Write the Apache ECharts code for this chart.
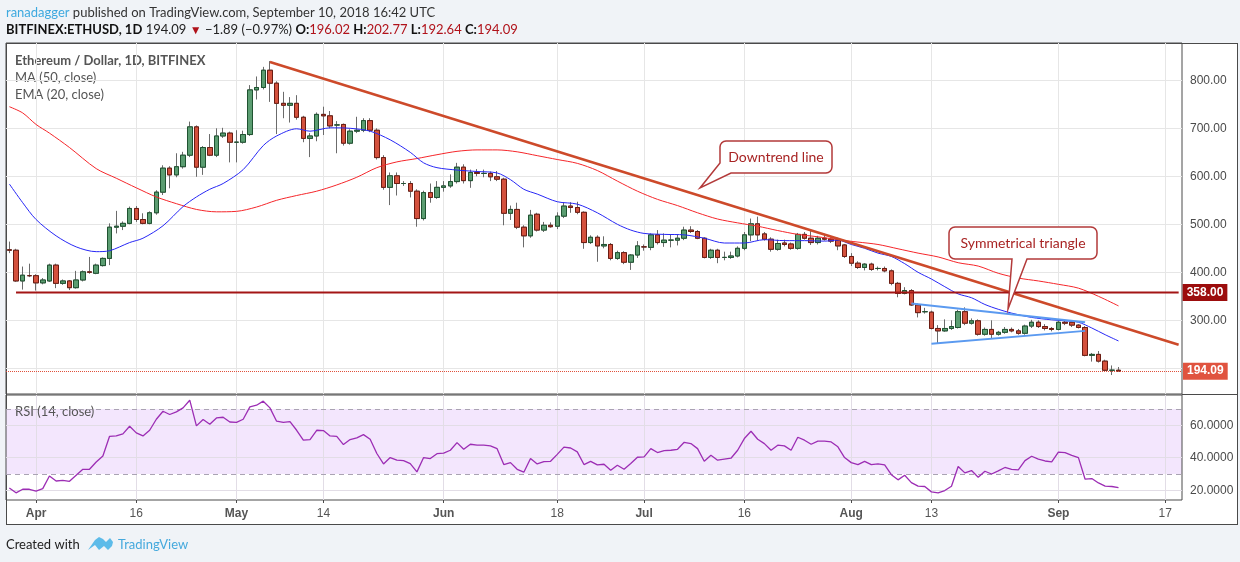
<!DOCTYPE html>
<html>
<head>
<meta charset="utf-8">
<title>ETHUSD 1D</title>
<script src="https://cdn.jsdelivr.net/npm/echarts@6/dist/echarts.min.js"></script>
<style>
html, body { margin: 0; padding: 0; background: #f0f3f7; }
#box { position: absolute; left: 6px; top: 43px; width: 1230px; height: 480px; background: #fff; border: 1px solid #4a4a4a; }
#charts { position: absolute; left: 0; top: 0; width: 1240px; height: 562px; }
</style>
</head>
<body>
<div id="box"></div>
<div id="charts"></div>
<script>
// daily categories, 2018-03-28 .. 2018-09-19 (last 9 days are empty space)
var dates = [];
var start = Date.UTC(2018, 2, 28);
for (var i = 0; i < 176; i++) {
    dates.push(new Date(start + i * 86400000).toISOString().slice(0, 10));
}

var tickDates = ['2018-04-01', '2018-04-16', '2018-05-01', '2018-05-14', '2018-06-01', '2018-06-18',
    '2018-07-01', '2018-07-16', '2018-08-01', '2018-08-13', '2018-09-01', '2018-09-17'];
var tickLabels = ['Apr', '16', 'May', '14', 'Jun', '18', 'Jul', '16', 'Aug', '13', 'Sep', '17'];
var priceTicks = [200, 300, 400, 500, 600, 700, 800];
var rsiTicks = [20, 40, 60];

// [open, close, low, high]
var ohlc = [
    [447,446,440,464],[446,382,380,449],[382,394,364,412],[393,393,390,418],[393,378,362,396],
    [378,384,375,388],[382,415,380,418],[415,377,367,418],[377,382,374,385],[382,368,363,384],
    [368,384,366,403],[384,401,381,404],[401,400,397,432],[398,415,396,418],[414,429,412,431],
    [429,494,415,502],[494,496,481,528],[496,502,488,506],[502,533,500,537],[533,510,505,538],
    [510,502,500,523],[502,524,500,527],[524,567,520,571],[567,617,561,623],[617,603,575,621],
    [603,620,598,648],[620,644,616,651],[644,703,640,714],[703,619,599,706],[619,660,603,663],
    [660,644,642,688],[644,684,640,700],[684,690,680,701],[690,671,629,693],[671,671,629,696],
    [671,687,668,695],[687,780,684,790],[780,785,760,808],[785,821,781,828],[821,794,755,840],
    [794,752,688,798],[752,748,721,776],[748,752,712,765],[752,723,718,769],[723,679,671,726],
    [679,684,640,690],[684,729,673,733],[729,726,686,745],[726,705,700,736],[707,707,648,715],
    [708,669,664,710],[669,694,666,698],[694,696,690,724],[696,716,692,721],[716,696,692,721],
    [696,639,635,700],[639,577,572,644],[577,601,540,608],[601,585,560,608],[585,585,580,590],
    [585,569,556,590],[569,512,495,573],[512,566,508,570],[566,556,545,585],[556,577,553,590],
    [577,580,568,590],[580,589,576,604],[589,619,585,628],[619,591,585,625],[591,608,576,614],
    [608,606,600,615],[606,606,598,614],[606,599,590,610],[599,594,590,611],[594,523,498,597],
    [523,531,509,539],[531,494,490,545],[494,476,452,498],[476,519,472,530],[521,488,485,524],
    [488,498,484,505],[498,495,493,504],[496,517,490,525],[517,538,513,546],[538,535,524,546],
    [535,525,521,547],[525,462,449,527],[462,473,459,477],[473,455,422,477],[455,458,450,475],
    [458,429,425,461],[429,441,426,445],[441,421,417,444],[421,436,405,438],[436,455,430,465],
    [453,453,445,458],[452,478,446,481],[478,462,458,488],[462,467,453,481],[467,467,452,479],
    [467,471,456,479],[471,488,467,495],[488,485,482,496],[485,471,469,488],[471,431,429,473],
    [431,446,428,449],[446,431,419,449],[431,431,425,443],[431,434,428,443],[434,450,431,454],
    [450,478,446,484],[478,501,465,512],[501,478,466,516],[480,469,466,484],[469,448,443,473],
    [448,460,445,468],[461,458,454,468],[459,450,447,462],[450,479,447,482],[479,471,468,484],
    [471,462,457,486],[462,471,458,476],[471,469,466,480],[469,465,461,473],[467,455,446,472],
    [457,433,430,459],[433,419,413,440],[419,410,407,423],[410,417,404,419],[417,406,403,420],
    [408,408,404,412],[408,403,400,412],[403,377,373,406],[377,356,348,380],[356,362,354,369],
    [362,332,330,365],[332,316,306,335],[318,318,314,326],[317,283,281,320],[283,278,252,290],
    [278,283,276,302],[283,287,280,300],[285,318,283,322],[318,294,290,327],[294,299,291,304],
    [299,271,268,302],[271,281,268,285],[281,271,262,300],[271,275,268,278],[275,281,272,286],
    [281,278,275,285],[278,273,270,282],[273,288,270,291],[288,296,284,301],[296,287,284,300],
    [287,283,279,292],[283,281,277,286],[281,296,279,301],[296,294,290,300],[296,290,286,298],
    [290,285,283,292],[285,227,225,288],[227,229,214,232],[229,215,212,236],[215,196,193,218],
    [196,196,186,206],[196.02,194.09,192.64,202.77]
];

// EMA(20): [day index, value]
var ema20 = [
    [0,584],[2,545],[4,510],[7,476],[10,453],[13,443],[15,445],[18,462],[20,471],[23,497],
    [26,537],[28,557],[30,573],[32,585],[35,614],[38,664],[40,684],[43,699],[45,694],[48,701],
    [51,700],[54,694],[57,676],[60,650],[62,628],[64,618],[67,613],[70,610],[73,607],[75,593],
    [77,573],[79,563],[82,547],[85,542],[88,524],[91,500],[93,488],[95,481],[98,479],[101,478],
    [104,471],[107,461],[110,461],[113,468],[116,466],[119,466],[122,465],[124,467],[126,458],
    [128,450],[130,440],[132,433],[134,418],[136,400],[138,386],[140,370],[142,355],[144,347],
    [146,333],[148,323],[150,315],[153,306],[156,301],[158,299],[160,296],[162,284],[164,270],[166,257]
];
// MA(50)
var ma50 = [
    [0,745],[2,732],[4,708],[6,690],[9,660],[13,616],[16,596],[19,576],[22,557],[25,543],
    [28,531],[31,526],[34,527],[37,536],[40,550],[43,560],[46,569],[49,582],[52,598],[55,618],
    [58,630],[61,637],[64,645],[67,652],[70,655],[73,655],[76,651],[79,643],[82,635],[85,627],
    [88,612],[91,590],[94,569],[97,552],[100,539],[103,524],[106,511],[109,503],[112,496],[115,487],
    [118,479],[121,474],[124,468],[127,463],[130,458],[133,449],[136,440],[139,432],[142,420],
    [145,413],[148,398],[151,388],[154,382],[157,375],[160,367],[163,350],[166,330]
];

// RSI(14)
var rsi = [
    21.4,18.4,20.6,20.6,19.4,21.0,28.8,25.7,26.1,25.5,
    29.2,32.9,32.9,37.4,41.1,53.2,53.4,54.7,59.4,55.3,
    53.4,56.9,63.7,68.6,66.6,68.2,70.7,75.4,59.6,63.5,
    60.6,64.5,64.9,62.0,61.8,63.7,71.3,72.3,74.8,70.7,
    62.5,61.8,62.2,56.9,50.8,51.2,56.9,56.7,53.4,53.2,
    48.1,51.2,52.2,54.2,51.4,42.6,36.2,40.1,38.5,38.2,
    36.4,31.3,40.1,39.5,42.5,42.8,44.6,49.3,45.2,48.3,
    47.7,47.7,47.3,45.6,35.8,37.0,32.9,31.1,39.5,36.2,
    37.6,37.8,42.1,46.5,46.0,43.6,35.8,37.8,35.6,36.0,
    32.3,35.4,32.9,36.4,40.3,40.5,45.6,43.2,44.4,44.6,
    45.2,49.5,48.7,45.6,37.8,41.5,38.5,39.1,39.7,44.6,
    51.8,56.3,51.4,48.7,44.6,47.7,47.3,44.6,52.6,50.8,
    48.3,50.2,50.2,49.7,46.7,40.1,37.0,35.8,37.8,35.8,
    36.2,35.6,29.6,26.4,29.2,24.7,22.5,22.3,19.0,18.4,
    19.8,22.5,34.6,30.7,32.1,28.0,31.7,30.0,31.9,34.0,
    32.9,32.5,38.2,40.9,39.1,38.0,37.4,43.4,43.2,41.5,
    40.1,26.8,27.2,24.5,22.5,22.3,21.6
];

// drawn lines: [day index, price]
var downtrend = [[39, 838], [175, 249]];
var triUpper = [[135, 335], [161, 296]];
var triLower = [[138, 251], [161, 278]];
var support = [[1, 358], [175, 358]];
var lastClose = 194.09;

function toPts(arr) {
    return arr.map(function (p) { return [dates[p[0]], p[1]]; });
}

// bodies only (no wick), drawn over gray wicks
var bodies = ohlc.map(function (d) {
    return [d[0], d[1], Math.min(d[0], d[1]), Math.max(d[0], d[1])];
});

// rounded corner points for the callout outlines
function arc(cx, cy, r, a0, a1) {
    var pts = [];
    for (var k = 0; k <= 4; k++) {
        var a = (a0 + (a1 - a0) * k / 4) * Math.PI / 180;
        pts.push([cx + r * Math.cos(a), cy + r * Math.sin(a)]);
    }
    return pts;
}
var calloutTrend = [].concat(
    arc(726, 147, 6, 180, 270), arc(826, 147, 6, 270, 360), arc(826, 167, 6, 0, 90),
    [[731, 173], [700, 188], [720, 163]]
);
var calloutTri = [].concat(
    arc(955, 233, 6, 180, 270), arc(1091, 233, 6, 270, 360), arc(1091, 253, 6, 0, 90),
    [[1027, 259], [1008, 309], [1012, 259]], arc(955, 253, 6, 90, 180)
);

var isTick = function (idx, val) { return tickDates.indexOf(val) >= 0; };
var vGrid = tickDates.map(function (d) { return {xAxis: d}; });
var axisFont = 'Liberation Sans';

var myChart = echarts.init(document.getElementById('charts'));
myChart.setOption({
    animation: false,
    grid: [
        {left: 6, top: 43, width: 1176, height: 351, show: true, borderColor: '#4a4a4a', borderWidth: 1},
        {left: 6, top: 395, width: 1176, height: 105, show: true, borderColor: '#4a4a4a', borderWidth: 1}
    ],
    xAxis: [
        {type: 'category', gridIndex: 0, data: dates, axisLine: {show: false}, axisTick: {show: false},
            axisLabel: {show: false}, splitLine: {show: false}},
        {type: 'category', gridIndex: 1, data: dates, axisLine: {show: false},
            axisTick: {show: true, interval: isTick, alignWithLabel: true, length: 3, lineStyle: {color: '#4a4a4a'}},
            axisLabel: {
                interval: isTick, margin: 8, color: '#555', fontSize: 12, fontFamily: axisFont,
                formatter: function (val) {
                    var t = tickLabels[tickDates.indexOf(val)];
                    return isNaN(t) ? '{m|' + t + '}' : t;
                },
                rich: {m: {fontWeight: 'bold', color: '#555', fontSize: 12, fontFamily: axisFont}}
            },
            splitLine: {show: false}}
    ],
    yAxis: [
        {type: 'value', gridIndex: 0, position: 'right', min: 146.5, max: 877.7,
            axisLine: {show: false}, axisTick: {show: false, customValues: priceTicks},
            axisLabel: {customValues: priceTicks, margin: 8, color: '#4a4a4a', fontSize: 12, fontFamily: axisFont,
                formatter: function (v) { return v.toFixed(2); }},
            splitLine: {show: true, lineStyle: {color: '#e6e6e6'}}},
        {type: 'value', gridIndex: 1, position: 'right', min: 14, max: 78.6,
            axisLine: {show: false}, axisTick: {show: false, customValues: rsiTicks},
            axisLabel: {customValues: rsiTicks, margin: 8, color: '#4a4a4a', fontSize: 12, fontFamily: axisFont,
                formatter: function (v) { return v.toFixed(4); }},
            splitLine: {show: true, lineStyle: {color: '#e2dde6'}}}
    ],
    series: [
        {
            name: 'wicks', type: 'candlestick', xAxisIndex: 0, yAxisIndex: 0, data: ohlc, barWidth: 5, z: 2,
            itemStyle: {color: '#6b6b6b', color0: '#6b6b6b', borderColor: '#6b6b6b', borderColor0: '#6b6b6b', borderWidth: 1},
            markLine: {
                silent: true, symbol: 'none', z: 0, label: {show: false},
                lineStyle: {color: '#e6e6e6', width: 1, type: 'solid'},
                data: vGrid
            }
        },
        {
            name: 'ETHUSD', type: 'candlestick', xAxisIndex: 0, yAxisIndex: 0, data: bodies, barWidth: 5, z: 3,
            itemStyle: {color: '#5b9d71', color0: '#d4513d', borderColor: '#1f5331', borderColor0: '#6b1c12', borderWidth: 1},
            markLine: {
                silent: true, symbol: 'none', z: 6,
                lineStyle: {color: '#e0503c', width: 1, type: 'dotted'},
                label: {show: true, position: 'end', distance: 1, formatter: lastClose.toFixed(2),
                    backgroundColor: '#e0533f', color: '#fff', fontWeight: 'bold', fontSize: 12,
                    fontFamily: axisFont, padding: [3, 4, 2, 4]},
                data: [{yAxis: lastClose}]
            }
        },
        {name: 'MA (50, close)', type: 'line', data: toPts(ma50), showSymbol: false, smooth: 0.3, z: 4,
            lineStyle: {color: '#f5262a', width: 1}},
        {name: 'EMA (20, close)', type: 'line', data: toPts(ema20), showSymbol: false, smooth: 0.3, z: 4,
            lineStyle: {color: '#2727f5', width: 1}},
        {name: 'Downtrend line', type: 'line', data: toPts(downtrend), showSymbol: false, z: 5,
            lineStyle: {color: '#cd4a2a', width: 2.5}},
        {name: 'triangle top', type: 'line', data: toPts(triUpper), showSymbol: false, z: 5,
            lineStyle: {color: '#5b9af0', width: 2}},
        {name: 'triangle bottom', type: 'line', data: toPts(triLower), showSymbol: false, z: 5,
            lineStyle: {color: '#5b9af0', width: 2}},
        {name: '358', type: 'line', data: toPts(support), showSymbol: false, z: 5,
            lineStyle: {color: '#a31515', width: 2},
            endLabel: {show: true, distance: 4, formatter: '358.00', backgroundColor: '#9c0d0d', color: '#fff',
                fontWeight: 'bold', fontSize: 12, fontFamily: axisFont, padding: [3, 4, 2, 4]}},
        {
            name: 'RSI (14, close)', type: 'line', xAxisIndex: 1, yAxisIndex: 1, data: rsi, showSymbol: false, z: 4,
            lineStyle: {color: '#9c2db4', width: 1.3},
            markArea: {silent: true, z: -1, itemStyle: {color: '#f3e6fd'}, data: [[{yAxis: 30}, {yAxis: 70}]]},
            markLine: {
                silent: true, symbol: 'none', z: 0, label: {show: false},
                data: vGrid.map(function (g) { return {xAxis: g.xAxis, lineStyle: {color: '#e2dde6', width: 1, type: 'solid'}}; })
                    .concat([{yAxis: 30}, {yAxis: 70}]),
                lineStyle: {color: '#aaa3b3', width: 1, type: [5, 4]}
            }
        }
    ],
    graphic: [
        {type: 'text', x: 6, y: 13, style: {
            text: '{u|ranadagger} published on TradingView.com, September 10, 2018 16:42 UTC',
            font: '13px Lato', fill: '#333', verticalAlign: 'middle',
            rich: {u: {fill: '#3ea9df', font: '13px Lato'}}}},
        {type: 'text', x: 6, y: 30, style: {
            text: '{b|BITFINEX:ETHUSD, 1D} 194.09 {r|▼} −1.89 (−0.97%) {b|O:}{v|196.02} {b|H:}{v|202.77} {b|L:}{v|192.64} {b|C:}{v|194.09}',
            font: '13px Lato', fill: '#222', verticalAlign: 'middle',
            rich: {
                b: {font: 'bold 13px Lato', fill: '#111'},
                r: {font: '12px Lato', fill: '#b0121a'},
                v: {font: '13px Lato', fill: '#b0121a'}
            }}},
        {type: 'text', x: 15, y: 61, style: {text: 'Ethereum / Dollar, 1D, BITFINEX', font: 'bold 13px Lato', fill: '#555', verticalAlign: 'middle'}},
        {type: 'text', x: 15, y: 78, style: {text: 'MA (50, close)', font: '13px Lato', fill: '#555', verticalAlign: 'middle'}},
        {type: 'text', x: 15, y: 95, style: {text: 'EMA (20, close)', font: '13px Lato', fill: '#555', verticalAlign: 'middle'}},
        {type: 'text', x: 15, y: 412, style: {text: 'RSI (14, close)', font: '13px Lato', fill: '#555', verticalAlign: 'middle'}},
        // separator between panes running into the price scale
        {type: 'line', shape: {x1: 1182, y1: 394.5, x2: 1238, y2: 394.5}, style: {stroke: '#4a4a4a', lineWidth: 1}},
        // callouts
        {type: 'polygon', z: 10, shape: {points: calloutTrend}, style: {fill: '#fff', stroke: '#b33a3a', lineWidth: 1.5}},
        {type: 'text', z: 11, x: 776, y: 157, style: {text: 'Downtrend line', font: '14px Lato', fill: '#a82424', align: 'center', verticalAlign: 'middle'}},
        {type: 'polygon', z: 10, shape: {points: calloutTri}, style: {fill: '#fff', stroke: '#b33a3a', lineWidth: 1.5}},
        {type: 'text', z: 11, x: 1023, y: 243, style: {text: 'Symmetrical triangle', font: '14px Lato', fill: '#a82424', align: 'center', verticalAlign: 'middle'}},
        // footer
        {type: 'text', x: 6, y: 545, style: {text: 'Created with', font: '13px Lato', fill: '#222', verticalAlign: 'middle'}},
        {type: 'polygon', shape: {points: [[88, 550], [95, 540], [99, 537], [103, 539], [106, 542], [110, 538], [113, 542], [112, 546], [108, 550], [104, 546], [99, 550], [95, 545]]},
            style: {fill: '#5dbbe9'}},
        {type: 'text', x: 118, y: 545, style: {text: 'TradingView', font: '13px Lato', fill: '#45a9dd', verticalAlign: 'middle'}}
    ]
});
</script>
</body>
</html>
